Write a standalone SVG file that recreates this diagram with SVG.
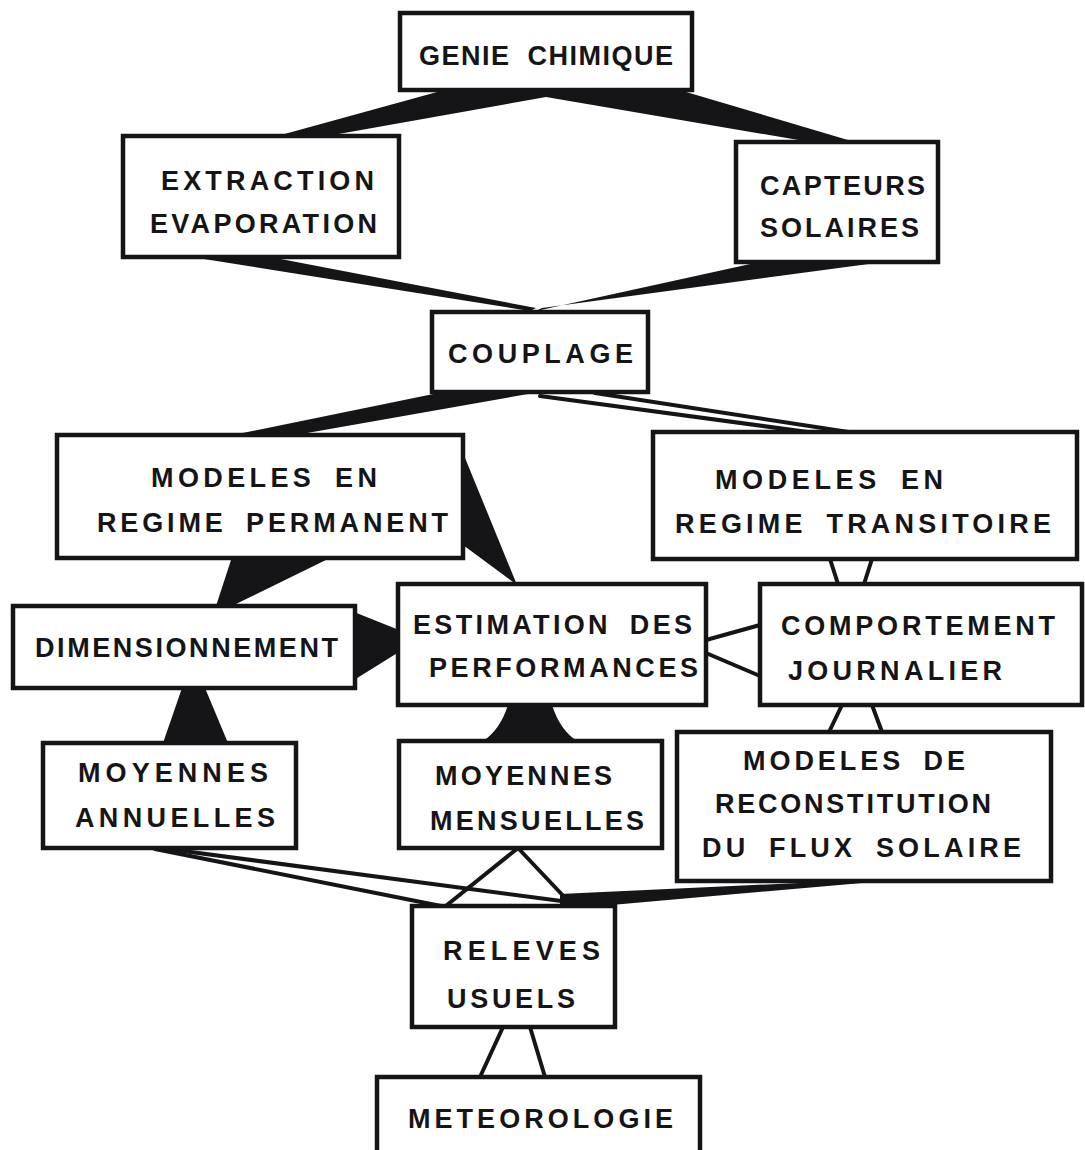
<svg xmlns="http://www.w3.org/2000/svg" width="1085" height="1150" viewBox="0 0 1085 1150">
<style>
  .box { fill: #ffffff; stroke: #151518; stroke-width: 4.5; }
  .lbl { font-family: "Liberation Sans", Arial, sans-serif; font-weight: bold; font-size: 27px; fill: #151518; word-spacing: 8px; }
  .wedge { fill: #151518; stroke: none; }
  .ln { stroke: #151518; stroke-width: 4; fill: none; stroke-linecap: round; }
</style>
<rect width="1085" height="1150" fill="#ffffff"/>
<g id="connectors">
  <polygon class="wedge" points="448,89 676,89 858,143 816,143 546,97 316,138 270,138"/>
  <polygon class="wedge" points="185,256 265,256 536,308 530,311"/>
  <polygon class="wedge" points="764,261 891,261 542,308 536,311"/>
  <polygon class="wedge" points="448,391 545,391 290,436 228,436"/>
  <line class="ln" x1="540" y1="396" x2="815" y2="433"/>
  <line class="ln" x1="595" y1="393" x2="855" y2="433"/>
  <polygon class="wedge" points="463,453 517,585 463,545"/>
  <polygon class="wedge" points="232,557 332,557 236,604 216,606"/>
  <polygon class="wedge" points="354,612 399,630 399,652 354,680"/>
  <line class="ln" x1="706" y1="640" x2="760" y2="625"/>
  <line class="ln" x1="706" y1="653" x2="760" y2="676"/>
  <line class="ln" x1="830" y1="559" x2="838" y2="584"/>
  <line class="ln" x1="872" y1="559" x2="864" y2="584"/>
  <line class="ln" x1="842" y1="705" x2="829" y2="732"/>
  <line class="ln" x1="872" y1="705" x2="882" y2="732"/>
  <polygon class="wedge" points="182,688 205,688 228,743 163,743"/>
  <path class="wedge" d="M508,705 L552,705 Q560,730 577,741 L483,741 Q500,730 508,705 Z"/>
  <line class="ln" x1="518" y1="848" x2="447" y2="905"/>
  <line class="ln" x1="518" y1="848" x2="570" y2="903"/>
  <line class="ln" x1="155" y1="849" x2="441" y2="906"/>
  <line class="ln" x1="168" y1="849" x2="569" y2="902"/>
  <polygon class="wedge" points="862,880 862,883 600,906 560,908 560,894"/>
  <line class="ln" x1="503" y1="1027" x2="480" y2="1077"/>
  <line class="ln" x1="530" y1="1027" x2="545" y2="1077"/>
</g>
<g id="genie">
  <rect class="box" x="400" y="13" width="292" height="77"/>
  <text class="lbl" x="419" y="65" textLength="254" lengthAdjust="spacing">GENIE CHIMIQUE</text>
</g>
<g id="extraction">
  <rect class="box" x="123" y="136" width="276" height="121"/>
  <text class="lbl" x="161" y="190" textLength="213" lengthAdjust="spacing">EXTRACTION</text>
  <text class="lbl" x="150" y="233" textLength="227" lengthAdjust="spacing">EVAPORATION</text>
</g>
<g id="capteurs">
  <rect class="box" x="736" y="142" width="202" height="120"/>
  <text class="lbl" x="760" y="195" textLength="165" lengthAdjust="spacing">CAPTEURS</text>
  <text class="lbl" x="760" y="237" textLength="159" lengthAdjust="spacing">SOLAIRES</text>
</g>
<g id="couplage">
  <rect class="box" x="432" y="312" width="216" height="80"/>
  <text class="lbl" x="448" y="363" textLength="185" lengthAdjust="spacing">COUPLAGE</text>
</g>
<g id="permanent">
  <rect class="box" x="57" y="435" width="406" height="123"/>
  <text class="lbl" x="151" y="487" textLength="226" lengthAdjust="spacing">MODELES EN</text>
  <text class="lbl" x="97" y="532" textLength="351" lengthAdjust="spacing">REGIME PERMANENT</text>
</g>
<g id="transitoire">
  <rect class="box" x="653" y="432" width="424" height="127"/>
  <text class="lbl" x="715" y="489" textLength="228" lengthAdjust="spacing">MODELES EN</text>
  <text class="lbl" x="675" y="533" textLength="376" lengthAdjust="spacing">REGIME TRANSITOIRE</text>
</g>
<g id="dimensionnement">
  <rect class="box" x="13" y="606" width="342" height="82"/>
  <text class="lbl" x="35" y="657" textLength="303" lengthAdjust="spacing">DIMENSIONNEMENT</text>
</g>
<g id="estimation">
  <rect class="box" x="398" y="584" width="308" height="121"/>
  <text class="lbl" x="413" y="634" textLength="279" lengthAdjust="spacing">ESTIMATION DES</text>
  <text class="lbl" x="429" y="677" textLength="269" lengthAdjust="spacing">PERFORMANCES</text>
</g>
<g id="comportement">
  <rect class="box" x="760" y="584" width="322" height="121"/>
  <text class="lbl" x="781" y="635" textLength="274" lengthAdjust="spacing">COMPORTEMENT</text>
  <text class="lbl" x="788" y="680" textLength="214" lengthAdjust="spacing">JOURNALIER</text>
</g>
<g id="annuelles">
  <rect class="box" x="43" y="743" width="253" height="105"/>
  <text class="lbl" x="78" y="782" textLength="190" lengthAdjust="spacing">MOYENNES</text>
  <text class="lbl" x="75" y="827" textLength="200" lengthAdjust="spacing">ANNUELLES</text>
</g>
<g id="mensuelles">
  <rect class="box" x="399" y="741" width="263" height="107"/>
  <text class="lbl" x="435" y="785" textLength="177" lengthAdjust="spacing">MOYENNES</text>
  <text class="lbl" x="430" y="830" textLength="214" lengthAdjust="spacing">MENSUELLES</text>
</g>
<g id="reconstitution">
  <rect class="box" x="677" y="732" width="374" height="149"/>
  <text class="lbl" x="743" y="770" textLength="222" lengthAdjust="spacing">MODELES DE</text>
  <text class="lbl" x="715" y="813" textLength="276" lengthAdjust="spacing">RECONSTITUTION</text>
  <text class="lbl" x="702" y="857" textLength="319" lengthAdjust="spacing">DU FLUX SOLAIRE</text>
</g>
<g id="releves">
  <rect class="box" x="412" y="906" width="203" height="121"/>
  <text class="lbl" x="443" y="960" textLength="157" lengthAdjust="spacing">RELEVES</text>
  <text class="lbl" x="447" y="1008" textLength="128" lengthAdjust="spacing">USUELS</text>
</g>
<g id="meteorologie">
  <rect class="box" x="377" y="1077" width="323" height="90"/>
  <text class="lbl" x="408" y="1128" textLength="265" lengthAdjust="spacing">METEOROLOGIE</text>
</g>
</svg>
